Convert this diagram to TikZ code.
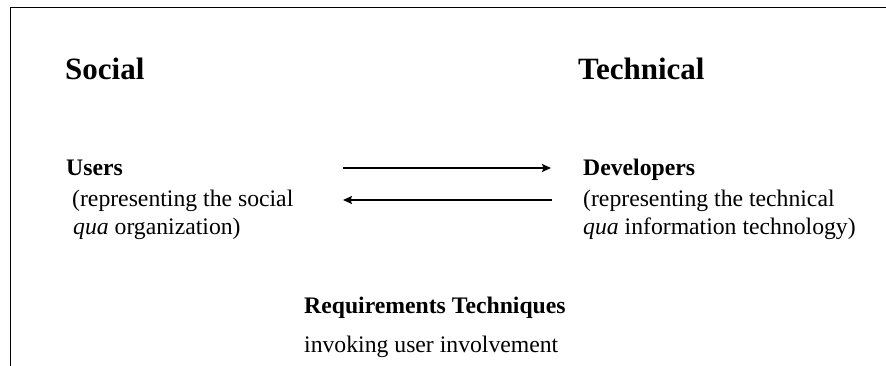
\documentclass[tikz,border=0pt]{standalone}
\usepackage{fontspec}
\setmainfont{Liberation Serif}
\usetikzlibrary{arrows.meta}
\tikzset{
  head/.style={anchor=base west, inner sep=0pt, font=\fontsize{31}{37}\selectfont\bfseries},
  lbl/.style={anchor=base west, inner sep=0pt, font=\fontsize{23.7}{28}\selectfont\bfseries},
  txt/.style={anchor=base west, inner sep=0pt, font=\fontsize{23.7}{28}\selectfont},
  frame/.style={line width=1.5pt, black},
  conn/.style={line width=1.4pt, -{Stealth[length=9pt,width=8pt,inset=1.5pt]}}
}
\begin{document}
\begin{tikzpicture}[x=1pt,y=-1pt]
\useasboundingbox (0,0) rectangle (886,366);
\fill[white] (0,0) rectangle (886,366);
% frame (top and left edges)
\coordinate (fbl) at (10.5,366);
\coordinate (ftl) at (10.5,7.5);
\coordinate (ftr) at (886,7.5);
\draw[frame] (fbl) -- (ftl) -- (ftr);
% headings
\node[head] (social) at (65,80) {Social};
\node[head] (technical) at (578,80) {Technical};
% users
\node[lbl] (users) at (66,176) {Users};
\node[txt] (users2) at (72,207) {(representing the social};
\node[txt] (users3) at (73,234) {\textit{qua} organization)};
% developers
\node[lbl] (dev) at (583,176) {Developers};
\node[txt] (dev2) at (583,207) {(representing the technical};
\node[txt] (dev3) at (583,234) {\textit{qua} information technology)};
% requirements
\node[lbl] (req) at (304,313) {Requirements Techniques};
\node[txt] (req2) at (304,352) {invoking user involvement};
% arrows
\coordinate (a1s) at (343,168);
\coordinate (a1e) at (551,168);
\coordinate (a2s) at (552,200);
\coordinate (a2e) at (343,200);
\draw[conn] (a1s) -- (a1e);
\draw[conn] (a2s) -- (a2e);
\end{tikzpicture}
\end{document}
